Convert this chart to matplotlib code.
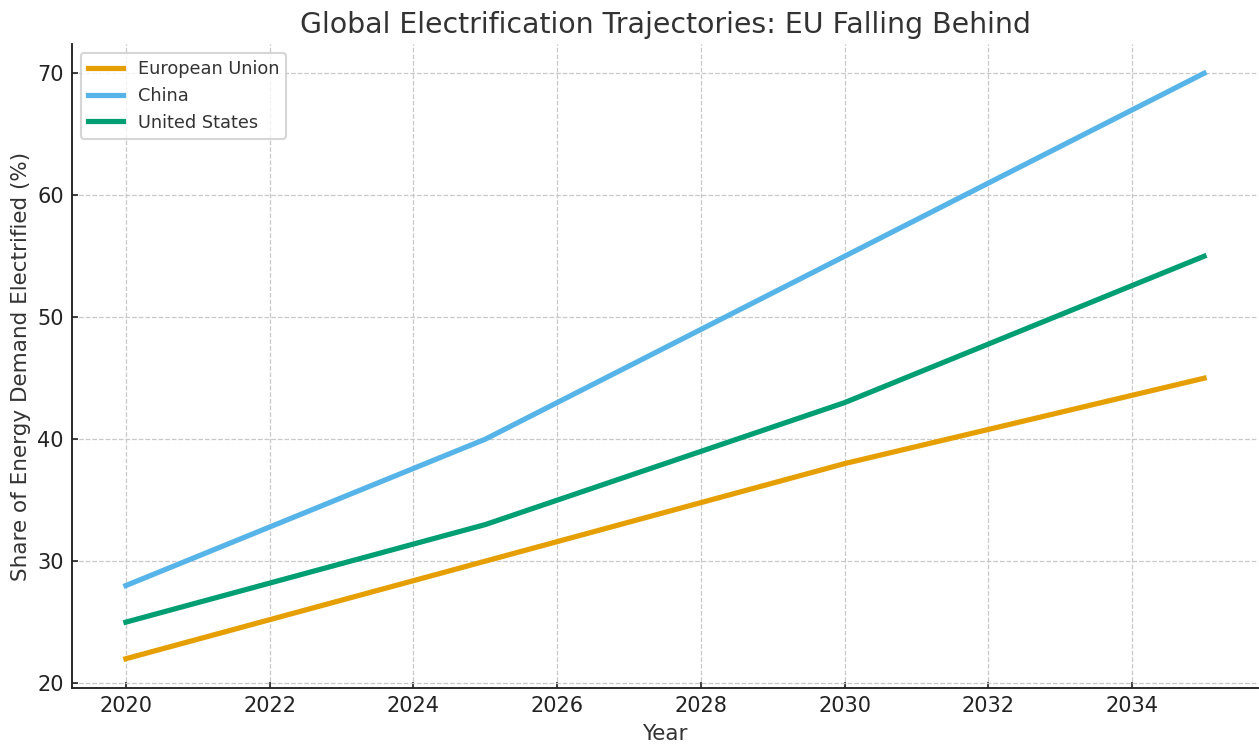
import numpy as np
import matplotlib.pyplot as plt

years = [2020, 2025, 2030, 2035]
eu = [22, 30, 38, 45]
china = [28, 40, 55, 70]
us = [25, 33, 43, 55]

plt.rcParams['font.family'] = 'DejaVu Sans'
plt.rcParams['text.color'] = '#333333'
plt.rcParams['axes.labelcolor'] = '#333333'
plt.rcParams['xtick.color'] = '#222222'
plt.rcParams['ytick.color'] = '#222222'

W, H, dpi = 1259, 747, 150
fig = plt.figure(figsize=(W / dpi, H / dpi), dpi=dpi)
ax = fig.add_axes([72 / W, 1 - 688 / H, (1258 - 72) / W, (688 - 44) / H])

lw = 2.5
ax.plot(years, eu, color='#E69F00', linewidth=lw, label='European Union')
ax.plot(years, china, color='#56B4E9', linewidth=lw, label='China')
ax.plot(years, us, color='#009E73', linewidth=lw, label='United States')

ax.set_xticks(np.arange(2020, 2035, 2))
ax.set_yticks(np.arange(20, 71, 10))
ax.tick_params(labelsize=10, direction='in', length=2.8, pad=4)
ax.grid(True, linestyle='--', color='#c8c8c8', linewidth=0.6)
ax.spines['top'].set_visible(False)
ax.spines['right'].set_visible(False)
for s in ('left', 'bottom'):
    ax.spines[s].set_color('#222222')
    ax.spines[s].set_linewidth(0.9)

ax.set_xlabel('Year', fontsize=10.3, labelpad=3.5)
ax.set_ylabel('Share of Energy Demand Electrified (%)', fontsize=10.3, labelpad=3)
ax.set_title('Global Electrification Trajectories: EU Falling Behind', fontsize=13.6, pad=5.5)
ax.legend(loc='upper left', fontsize=8.5)

fig.savefig('out.png', dpi=dpi)
